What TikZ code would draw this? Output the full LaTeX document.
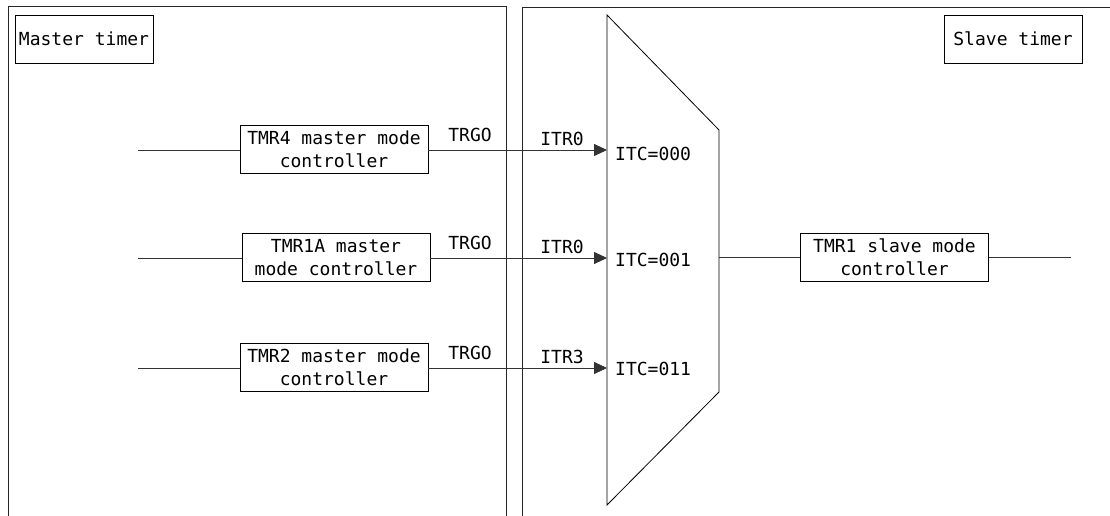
\documentclass[tikz,border=0pt]{standalone}
\usepackage{fontspec}
\setmainfont{DejaVu Sans Mono}
\usetikzlibrary{arrows.meta}
\tikzset{
  blk/.style={draw, line width=0.8pt, align=center, minimum width=188pt, minimum height=48pt, inner sep=2pt, font=\fontsize{18}{23}\selectfont},
  tag/.style={draw, line width=0.8pt, minimum width=138pt, minimum height=48pt, inner sep=2pt, font=\fontsize{18}{23}\selectfont},
  lbl/.style={inner sep=1pt, font=\fontsize{18}{23}\selectfont},
  sig/.style={line width=0.8pt, color=black!80},
  trig/.style={sig, -{Triangle[length=13pt,width=12pt]}},
  frame/.style={line width=1pt, color=black!85}
}

\begin{document}
\begin{tikzpicture}[x=1pt, y=-1pt]
			%%%%% START %%%%%
			\useasboundingbox (0, 0) rectangle (1110, 516);
			
			\draw[frame] (8, 516) -- (8, 7) -- (506, 7) -- (506, 516);
			\draw[frame] (522, 516) -- (522, 8) -- (1110, 8);
			
			\node[tag] (master) at (84, 39) {Master timer};
			\node[tag] (slave) at (1013, 39) {Slave timer};
			
			% multiplexer
			\draw[line width=0.8pt] (607, 15) -- (719, 130) -- (719, 392) -- (607, 505) -- cycle;
			\coordinate (mux4) at (607, 150);
			\coordinate (mux1a) at (607, 258);
			\coordinate (mux2) at (607, 368);
			\coordinate (muxout) at (719, 257);
			
			\node[blk] (tmr4) at (334, 149) {TMR4 master mode\\controller};
			\node[blk] (tmr1a) at (336, 257.5) {TMR1A master\\mode controller};
			\node[blk] (tmr2) at (334, 367.5) {TMR2 master mode\\controller};
			\node[blk] (tmr1) at (894.5, 257) {TMR1 slave mode\\controller};
			
			\coordinate (in4) at (138, 150);
			\coordinate (in1a) at (138, 258);
			\coordinate (in2) at (138, 368);
			\coordinate (out1) at (1071, 257);
			
			\draw[sig] (in4) -- (tmr4.west |- in4);
			\draw[sig] (in1a) -- (tmr1a.west |- in1a);
			\draw[sig] (in2) -- (tmr2.west |- in2);
			
			\draw[trig] (tmr4.east |- mux4) -- (mux4);
			\draw[trig] (tmr1a.east |- mux1a) -- (mux1a);
			\draw[trig] (tmr2.east |- mux2) -- (mux2);
			
			\draw[sig] (muxout) -- (tmr1.west |- muxout);
			\draw[sig] (tmr1.east |- out1) -- (out1);
			
			\node[lbl] (trgo4) at (470, 135) {TRGO};
			\node[lbl] (trgo1a) at (470, 243) {TRGO};
			\node[lbl] (trgo2) at (470, 353) {TRGO};
			
			\node[lbl] (itr4) at (562, 139) {ITR0};
			\node[lbl] (itr1a) at (562, 247) {ITR0};
			\node[lbl] (itr2) at (562, 357) {ITR3};
			
			\node[lbl, anchor=west] (itc4) at (614, 154) {ITC=000};
			\node[lbl, anchor=west] (itc1a) at (614, 260) {ITC=001};
			\node[lbl, anchor=west] (itc2) at (614, 369) {ITC=011};
			%%%%% END %%%%%
\end{tikzpicture}
\end{document}
